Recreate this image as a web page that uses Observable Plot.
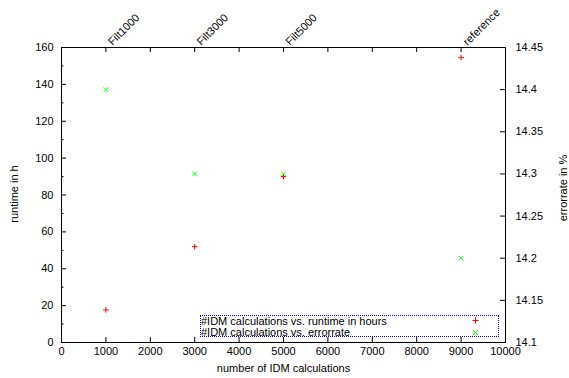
<!DOCTYPE html>
<html><head><meta charset="utf-8">
<script src="https://cdn.jsdelivr.net/npm/d3@7"></script>
<script src="https://cdn.jsdelivr.net/npm/@observablehq/plot@0.6"></script>
<style>
body{margin:0;background:#fff;font-family:"Liberation Sans",Arial,sans-serif;}
#wrap{position:relative;width:569px;height:378px;}
#legend{position:absolute;left:200px;top:315px;width:299px;height:22px;border:1px dotted #0000ff;font-size:11px;color:#000;box-sizing:border-box;}
#legend .row{position:absolute;left:0px;height:11px;line-height:11px;white-space:nowrap;}
#legend .sym{position:absolute;left:270px;width:9px;height:9px;}
</style>
</head><body><div id="wrap"></div>
<script>
// ---- data ----
const idmCalcs = [1000, 3000, 5000, 9000];
const runNames = ["Filt1000", "Filt3000", "Filt5000", "reference"];
const runtimeHours = [17.7, 52, 90, 154.5];
const errorRate = [14.4, 14.3, 14.3, 14.2];
const xTicks = [0, 1000, 2000, 3000, 4000, 5000, 6000, 7000, 8000, 9000, 10000];
const yTicks = [0, 20, 40, 60, 80, 100, 120, 140, 160];
const yMinorTicks = [10, 30, 50, 70, 90, 110, 130, 150];
const errTicks = [14.1, 14.15, 14.2, 14.25, 14.3, 14.35, 14.4, 14.45];
const legendLabels = ["#IDM calculations vs. runtime in hours", "#IDM calculations vs. errorrate"];

const errMin = 14.1, errMax = 14.45, yMax = 160;
const errToY = e => (e - errMin) / (errMax - errMin) * yMax;
const yToErr = y => +(errMin + y / yMax * (errMax - errMin)).toFixed(2);

const runtimeData = idmCalcs.map((x, i) => ({x, y: runtimeHours[i]}));
const errData = idmCalcs.map((x, i) => ({x, y: errToY(errorRate[i])}));
const topData = idmCalcs.map((x, i) => ({x, name: runNames[i]}));

const W = 569, H = 378, mL = 61, mR = 64, mT = 47, mB = 36;
const innerW = W - mL - mR, innerH = H - mT - mB;
const maj = 5, mnr = 2.5;

const chart = Plot.plot({
  width: W, height: H,
  marginLeft: mL, marginRight: mR, marginTop: mT, marginBottom: mB,
  style: {fontFamily: '"Liberation Sans", Arial, sans-serif', fontSize: "11px", color: "#000", background: "#fff"},
  x: {domain: [0, 10000]},
  y: {domain: [0, yMax]},
  marks: [
    // inward ticks (bottom, top)
    Plot.ruleX(xTicks, {x: d => d, y1: yMax, y2: 0, insetTop: innerH - maj, stroke: "#000"}),
    Plot.ruleX(xTicks, {x: d => d, y1: yMax, y2: 0, insetBottom: innerH - maj, stroke: "#000"}),
    // left major/minor, right
    Plot.ruleY(yTicks, {y: d => d, x1: 0, x2: 10000, insetRight: innerW - maj, stroke: "#000"}),
    Plot.ruleY(yMinorTicks, {y: d => d, x1: 0, x2: 10000, insetRight: innerW - mnr, stroke: "#000"}),
    Plot.ruleY(errTicks.map(errToY), {y: d => d, x1: 0, x2: 10000, insetLeft: innerW - maj, stroke: "#000"}),
    Plot.frame({stroke: "#000", strokeWidth: 1}),
    // axes
    Plot.axisX({anchor: "bottom", ticks: xTicks, tickSize: 0, tickPadding: 5, label: null, tickFormat: d => String(d)}),
    Plot.axisY({anchor: "left", ticks: yTicks, tickSize: 0, tickPadding: 8, label: null}),
    Plot.axisY({anchor: "right", ticks: errTicks.map(errToY), tickSize: 0, tickPadding: 10, label: null, tickFormat: d => String(yToErr(d)), textAnchor: "start"}),
    // axis titles
    Plot.text(["number of IDM calculations"], {frameAnchor: "bottom", dy: 29, fill: "#000"}),
    Plot.text(["runtime in h"], {frameAnchor: "left", rotate: -90, textAnchor: "middle", dx: -47, dy: -1, fill: "#000"}),
    Plot.text(["errorrate in %"], {frameAnchor: "right", rotate: -90, textAnchor: "middle", dx: 58, dy: -7, fill: "#000"}),
    // top labels
    Plot.text(topData, {x: "x", text: "name", frameAnchor: "top", rotate: -45, textAnchor: "start", dy: -7, dx: 1, fill: "#000"}),
    // data
    Plot.dot(runtimeData, {x: "x", y: "y", symbol: "plus", r: 1.9, stroke: "#ff0000", strokeWidth: 1}),
    Plot.dot(errData, {x: "x", y: "y", symbol: "times", r: 2.2, stroke: "#00ff00", strokeWidth: 1})
  ]
});
const wrap = document.getElementById("wrap");
wrap.appendChild(chart);

// legend
const leg = document.createElement("div");
leg.id = "legend";
const colors = ["#ff0000", "#00ff00"];
const syms = ["M-3,0H3M0,-3V3", "M-2.5,-2.5L2.5,2.5M-2.5,2.5L2.5,-2.5"];
legendLabels.forEach((t, i) => {
  const r = document.createElement("div");
  r.className = "row";
  r.style.top = (i === 0 ? 0 : 11) + "px";
  r.textContent = t;
  leg.appendChild(r);
  const s = document.createElementNS("http://www.w3.org/2000/svg", "svg");
  s.setAttribute("class", "sym");
  s.setAttribute("width", 9); s.setAttribute("height", 9);
  s.setAttribute("viewBox", "-4.5 -4.5 9 9");
  s.style.top = (i === 0 ? 0 : 11.5) + "px";
  const p = document.createElementNS("http://www.w3.org/2000/svg", "path");
  p.setAttribute("d", syms[i]);
  p.setAttribute("stroke", colors[i]);
  p.setAttribute("fill", "none");
  s.appendChild(p);
  leg.appendChild(s);
});
wrap.appendChild(leg);
</script>
</body></html>
